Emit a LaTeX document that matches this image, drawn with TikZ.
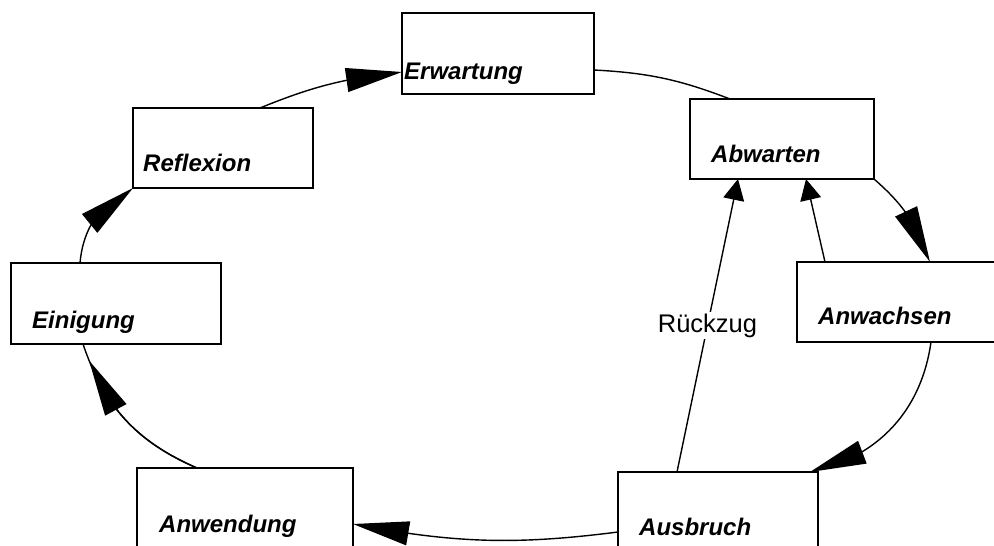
\documentclass[tikz,border=0pt]{standalone}
\usepackage{fontspec}
\setmainfont{Liberation Sans}
\usetikzlibrary{arrows.meta,bending}
\tikzset{
  box/.style={draw, line width=1.8pt, anchor=north west, inner sep=0pt, outer sep=0pt},
  ttl/.style={anchor=base west, inner sep=0pt, font=\fontsize{24}{28}\selectfont\bfseries\itshape},
  conn/.style={line width=1.4pt},
  bigtip/.style={-{Triangle[length=56pt,width=24pt,flex]}},
  smalltip/.style={-{Triangle[length=21pt,width=21pt]}},
  edgelbl/.style={fill=white, inner sep=2pt, font=\fontsize{25.5}{30}\selectfont},
}
\begin{document}
\begin{tikzpicture}[x=1pt,y=-1pt]
\useasboundingbox (0,0) rectangle (994,546);
\clip (0,0) rectangle (994,546);
% boxes
\node[box, minimum width=192pt, minimum height=81pt] (erw) at (402,13) {};
\node[box, minimum width=180pt, minimum height=80pt] (refl) at (133,108) {};
\node[box, minimum width=184pt, minimum height=80pt] (abw) at (690,99) {};
\node[box, minimum width=220pt, minimum height=80pt] (anwa) at (797,262) {};
\node[box, minimum width=210pt, minimum height=81pt] (einig) at (11,263) {};
\node[box, minimum width=216pt, minimum height=100pt] (anwe) at (137,468) {};
\node[box, minimum width=200pt, minimum height=100pt] (ausb) at (618,472) {};
% titles
\node[ttl] (erwT) at (404,79) {Erwartung};
\node[ttl] (reflT) at (143,171) {Reflexion};
\node[ttl] (abwT) at (711,162) {Abwarten};
\node[ttl] (anwaT) at (818,324) {Anwachsen};
\node[ttl] (einigT) at (32,328) {Einigung};
\node[ttl] (anweT) at (159,532) {Anwendung};
\node[ttl] (ausbT) at (639,535) {Ausbruch};
% cycle connectors
\draw[conn,bigtip] (260,0 |- refl.north) to[bend left=8] (erw.west |- 0,72);
\draw[conn] (erw.east |- 0,70) to[bend left=9] (730,0 |- abw.north);
\draw[conn,bigtip] (abw.south east) to[bend left=15] (930,0 |- anwa.north);
\draw[conn,bigtip] (931,0 |- anwa.south) to[bend left=35] (810,0 |- ausb.north);
\draw[conn,bigtip] (ausb.west |- 0,532) to[bend left=9] (anwe.east |- 0,524);
\draw[conn] (197,0 |- anwe.north) to[bend left=24] (83,0 |- einig.south);
\draw[conn,bigtip,shorten >=18pt] (197,0 |- anwe.north) to[bend left=24] (83,0 |- einig.south);
\draw[conn,bigtip] (80,0 |- einig.north) to[bend left=30] (refl.south west);
% back connectors
\draw[conn,smalltip] (677,0 |- ausb.north) -- node[edgelbl, pos=0.5] (rz) {Rückzug} (738,0 |- abw.south);
\draw[conn,smalltip] (825,0 |- anwa.north) -- (806,0 |- abw.south);
\end{tikzpicture}
\end{document}
